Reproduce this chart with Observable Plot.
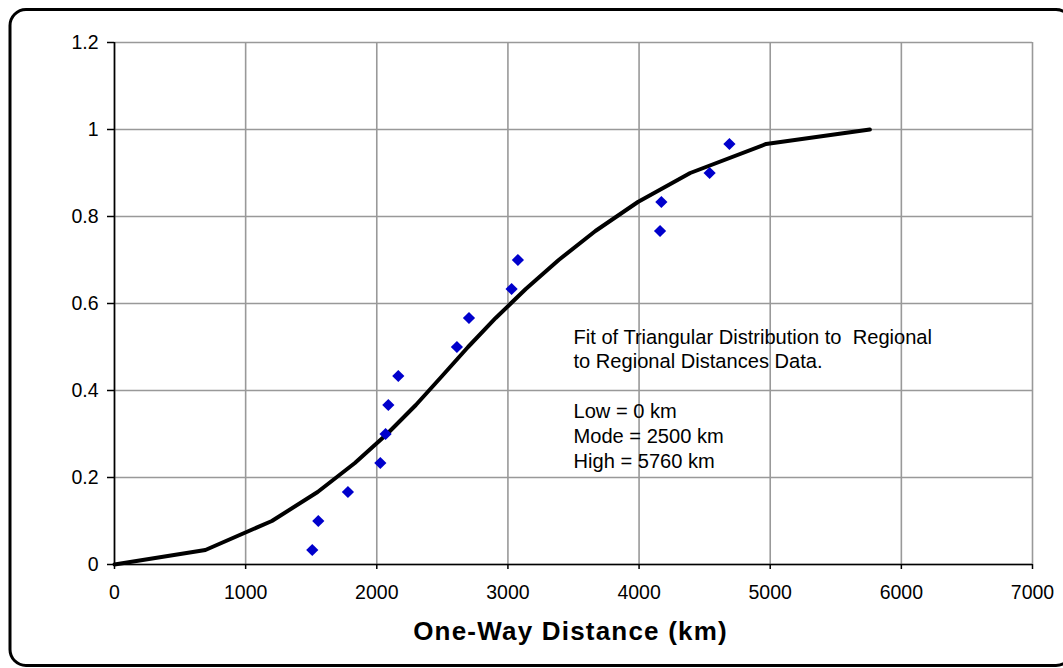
<!DOCTYPE html>
<html>
<head>
<meta charset="utf-8">
<script src="https://cdn.jsdelivr.net/npm/d3@7"></script>
<script src="https://cdn.jsdelivr.net/npm/@observablehq/plot@0.6"></script>
<style>
  html, body { margin: 0; padding: 0; background: white; }
  #chart svg { display: block; }
  #chart text.wide-title { letter-spacing: 1.2px; }
</style>
</head>
<body>
<div id="chart"></div>
<script>
// Observed data (cumulative fraction vs one-way distance)
const obsDistance = [1508, 1554, 1780, 2027, 2067, 2088, 2164, 2611, 2703, 3028, 3076, 4160, 4170, 4538, 4689];
const obsFraction = [0.0333, 0.1, 0.1667, 0.2333, 0.3, 0.3667, 0.4333, 0.5, 0.5667, 0.6333, 0.7, 0.7667, 0.8333, 0.9, 0.9667];

// Fitted triangular distribution curve
const fitDistance = [0, 693, 1200, 1549, 1833, 2078, 2298, 2498, 2696, 2907, 3136, 3387, 3667, 3991, 4390, 4969, 5760];
const fitFraction = [0, 0.0333, 0.1, 0.1667, 0.2333, 0.3, 0.3667, 0.4333, 0.5, 0.5667, 0.6333, 0.7, 0.7667, 0.8333, 0.9, 0.9667, 1];

const xTicks = [0, 1000, 2000, 3000, 4000, 5000, 6000, 7000];
const yTicks = [0, 0.2, 0.4, 0.6, 0.8, 1, 1.2];

const xTitle = "One-Way Distance (km)";
const annotation = [
  "Fit of Triangular Distribution to  Regional",
  "to Regional Distances Data.",
  "",
  "Low = 0 km",
  "Mode = 2500 km",
  "High = 5760 km"
].join("\n");

const obs = obsDistance.map((d, i) => ({x: d, y: obsFraction[i]}));
const fit = fitDistance.map((d, i) => ({x: d, y: fitFraction[i]}));

const font = "'Liberation Sans', Arial, Helvetica, sans-serif";

const chart = Plot.plot({
  width: 1063,
  height: 668,
  marginLeft: 114,
  marginRight: 31,
  marginTop: 42,
  marginBottom: 104,
  style: {fontFamily: font, fontSize: "19.5px", color: "black", background: "white"},
  x: {domain: [0, 7000]},
  y: {domain: [0, 1.2]},
  marks: [
    Plot.gridX(xTicks, {stroke: "#999", strokeOpacity: 1, strokeWidth: 1.6}),
    Plot.gridY(yTicks, {stroke: "#999", strokeOpacity: 1, strokeWidth: 1.6}),
    Plot.ruleX([0], {stroke: "black", strokeWidth: 1.6}),
    Plot.ruleY([0], {stroke: "black", strokeWidth: 1.6}),
    Plot.axisX(xTicks, {tickSize: 5, tickPadding: 16, tickFormat: d => `${d}`, label: null, stroke: "black", strokeWidth: 1.5}),
    Plot.axisY(yTicks, {tickSize: 7, tickPadding: 9, tickFormat: d => `${d}`, label: null, stroke: "black", strokeWidth: 1.5}),
    Plot.line(fit, {x: "x", y: "y", stroke: "black", strokeWidth: 4, strokeLinejoin: "round"}),
    Plot.dot(obs, {x: "x", y: "y", symbol: "diamond2", r: 5.5, fill: "#0000cc", stroke: "none"}),
    Plot.text([annotation], {x: 3500, y: 0.383, text: d => d, textAnchor: "start", fontSize: 20.1, lineHeight: 1.24, fill: "black"}),
    Plot.text([xTitle], {frameAnchor: "bottom", dy: 75, dx: -3, text: d => d, fontSize: 26, fontWeight: "bold", fill: "black"})
  ]
});

const svg = d3.select(chart);
svg.selectAll("text").each(function () {
  if (this.textContent === xTitle) this.setAttribute("class", "wide-title");
});

// rounded outer border of the chart
svg.append("rect")
  .attr("x", 10).attr("y", 9.5)
  .attr("width", 1062).attr("height", 656)
  .attr("rx", 16).attr("ry", 16)
  .attr("fill", "none").attr("stroke", "black").attr("stroke-width", 3);

document.getElementById("chart").appendChild(chart);
</script>
</body>
</html>
